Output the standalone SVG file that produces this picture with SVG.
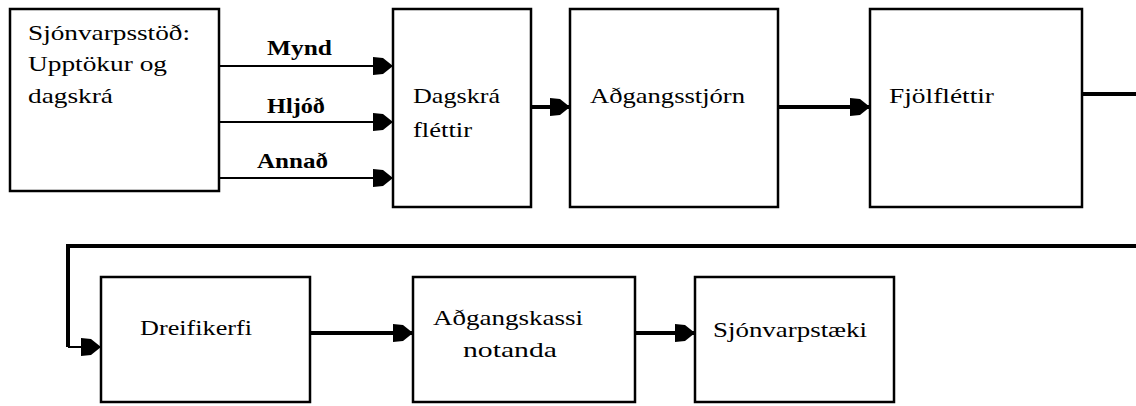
<svg xmlns="http://www.w3.org/2000/svg" width="1136" height="406" viewBox="0 0 1136 406">
<style>
.box{fill:#fff;stroke:#000;stroke-width:2.5}
.t{font-family:"Liberation Serif","Times New Roman",serif;font-size:21px;fill:#000}
.b{font-family:"Liberation Serif","Times New Roman",serif;font-size:21px;font-weight:bold;fill:#000}
.thin{fill:none;stroke:#000;stroke-width:2}
.thick{fill:none;stroke:#000;stroke-width:4}
</style>
<defs>
<marker id="ah" markerUnits="userSpaceOnUse" markerWidth="22" markerHeight="20" refX="20" refY="10" orient="auto">
<path d="M0,1 L10,2 L20,10 L10,18 L0,19 Z" fill="#000"/>
</marker>
</defs>
<rect width="1136" height="406" fill="#fff"/>
<g id="connectors">
<line class="thin" x1="219" y1="66" x2="393" y2="66" marker-end="url(#ah)"/>
<line class="thin" x1="219" y1="122" x2="393" y2="122" marker-end="url(#ah)"/>
<line class="thin" x1="219" y1="178" x2="393" y2="178" marker-end="url(#ah)"/>
<line class="thick" x1="531" y1="107" x2="570" y2="107" marker-end="url(#ah)"/>
<line class="thick" x1="778" y1="107" x2="870" y2="107" marker-end="url(#ah)"/>
<line class="thick" x1="1082" y1="94" x2="1136" y2="94"/>
<polyline class="thick" points="1136,246 68,246 68,347"/>
<line class="thin" x1="68" y1="347" x2="101" y2="347" marker-end="url(#ah)"/>
<line class="thick" x1="310" y1="333" x2="413" y2="333" marker-end="url(#ah)"/>
<line class="thick" x1="635" y1="333" x2="695" y2="333" marker-end="url(#ah)"/>
<text class="b" x="267" y="55" textLength="65" lengthAdjust="spacingAndGlyphs">Mynd</text>
<text class="b" x="267" y="113" textLength="58" lengthAdjust="spacingAndGlyphs">Hljóð</text>
<text class="b" x="257" y="168" textLength="71" lengthAdjust="spacingAndGlyphs">Annað</text>
</g>
<g id="n1">
<rect class="box" x="10" y="9" width="209" height="182"/>
<text class="t" x="28" y="40" textLength="162" lengthAdjust="spacingAndGlyphs">Sjónvarpsstöð:</text>
<text class="t" x="28" y="71" textLength="139" lengthAdjust="spacingAndGlyphs">Upptökur og</text>
<text class="t" x="28" y="103" textLength="85" lengthAdjust="spacingAndGlyphs">dagskrá</text>
</g>
<g id="n2">
<rect class="box" x="393" y="9" width="138" height="198"/>
<text class="t" x="413" y="103" textLength="87" lengthAdjust="spacingAndGlyphs">Dagskrá</text>
<text class="t" x="413" y="137" textLength="59" lengthAdjust="spacingAndGlyphs">fléttir</text>
</g>
<g id="n3">
<rect class="box" x="570" y="9" width="208" height="198"/>
<text class="t" x="590" y="103" textLength="155" lengthAdjust="spacingAndGlyphs">Aðgangsstjórn</text>
</g>
<g id="n4">
<rect class="box" x="870" y="9" width="212" height="198"/>
<text class="t" x="889" y="103" textLength="105" lengthAdjust="spacingAndGlyphs">Fjölfléttir</text>
</g>
<g id="n5">
<rect class="box" x="101" y="277" width="209" height="125"/>
<text class="t" x="140" y="335" textLength="112" lengthAdjust="spacingAndGlyphs">Dreifikerfi</text>
</g>
<g id="n6">
<rect class="box" x="413" y="277" width="222" height="125"/>
<text class="t" x="433" y="325" textLength="150" lengthAdjust="spacingAndGlyphs">Aðgangskassi</text>
<text class="t" x="463" y="357" textLength="94" lengthAdjust="spacingAndGlyphs">notanda</text>
</g>
<g id="n7">
<rect class="box" x="695" y="277" width="199" height="125"/>
<text class="t" x="713" y="337" textLength="154" lengthAdjust="spacingAndGlyphs">Sjónvarpstæki</text>
</g>
</svg>
